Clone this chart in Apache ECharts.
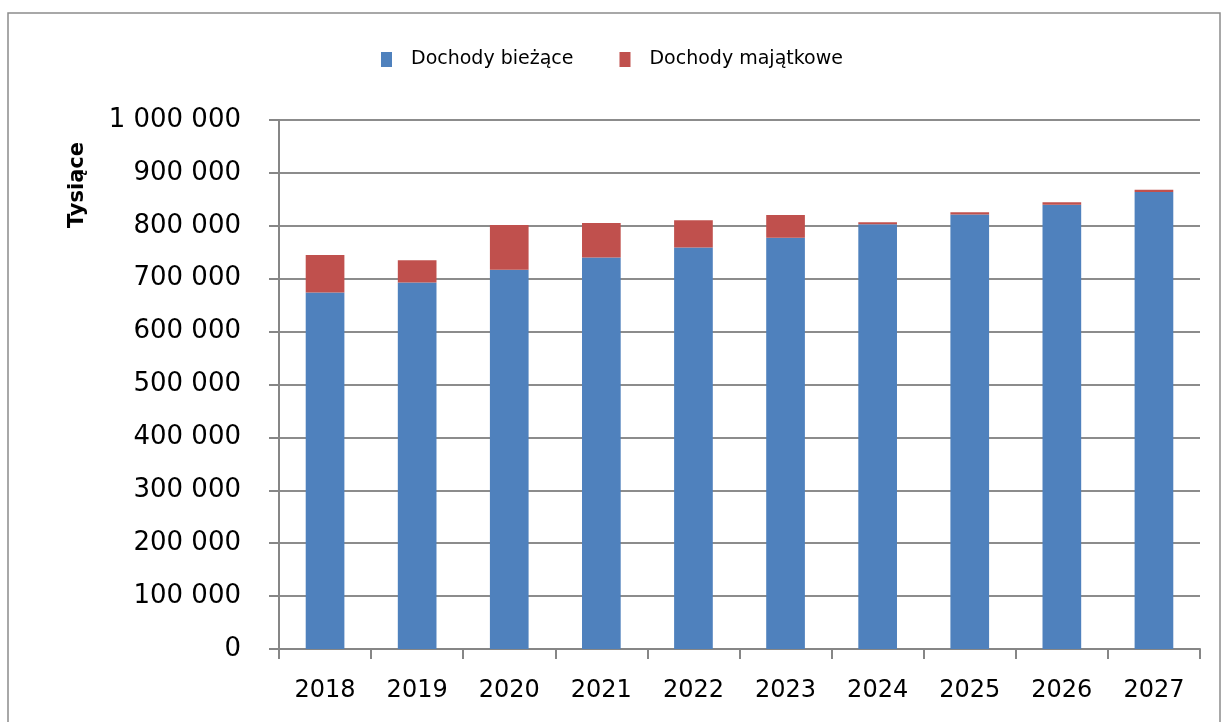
<!DOCTYPE html>
<html><head><meta charset="utf-8">
<script src="https://cdn.jsdelivr.net/npm/echarts@6/dist/echarts.min.js"></script>
<style>html,body{margin:0;padding:0;background:#fff}#c{width:1226px;height:722px}</style>
</head><body><div id="c"></div>
<script>
const years = ['2018','2019','2020','2021','2022','2023','2024','2025','2026','2027'];
const biezace = [674000, 693000, 717000, 740000, 759000, 777500, 803000, 821500, 840000, 864000];
const majatkowe = [71000, 42000, 84500, 65500, 51500, 43000, 3500, 4000, 4500, 4000];
const seriesNames = ['Dochody bieżące', 'Dochody majątkowe'];
const axisName = 'Tysiące';

const fmt = v => String(v).replace(/\B(?=(\d{3})+(?!\d))/g, ' ');
const chart = echarts.init(document.getElementById('c'));
const font = 'DejaVu Sans';
chart.setOption({
  animation: false,
  graphic: [
    {type:'rect', shape:{x:8, y:13, width:1212, height:720}, style:{fill:'none', stroke:'#8c8c8c', lineWidth:1.5}},
    {type:'text', x:78, y:185, rotation: Math.PI/2, style:{text: axisName, font: 'bold 21px "DejaVu Sans"', fill:'#000', align:'center', verticalAlign:'middle'}}
  ],
  legend: {
    top: 45, left: 376, itemWidth: 11, itemHeight: 15, itemGap: 46,
    icon: 'rect',
    textStyle: {fontFamily: font, fontSize: 19, color: '#000', padding: [0,0,0,14]},
    data: seriesNames
  },
  grid: {left: 279, right: 26, top: 120, bottom: 73, containLabel: false},
  xAxis: {
    type: 'category', data: years,
    axisLine: {lineStyle: {color: '#868686', width: 2}},
    axisTick: {show: true, length: 10, lineStyle: {color: '#868686', width: 2}},
    axisLabel: {fontFamily: font, fontSize: 24, color: '#000', margin: 30}
  },
  yAxis: {
    type: 'value', min: 0, max: 1000000, interval: 100000,
    axisLine: {show: true, lineStyle: {color: '#868686', width: 2}},
    axisTick: {show: true, inside: false, length: 10, lineStyle: {color: '#868686', width: 2}},
    splitLine: {lineStyle: {color: '#8c8c8c', width: 2}},
    axisLabel: {fontFamily: font, fontSize: 26, color: '#000', margin: 38, formatter: fmt}
  },
  series: [
    {name: seriesNames[0], type: 'bar', stack: 'a', data: biezace, barWidth: '42%', itemStyle: {color: '#4f81bd'}},
    {name: seriesNames[1], type: 'bar', stack: 'a', data: majatkowe, barWidth: '42%', itemStyle: {color: '#c0504d'}}
  ]
});
</script></body></html>
